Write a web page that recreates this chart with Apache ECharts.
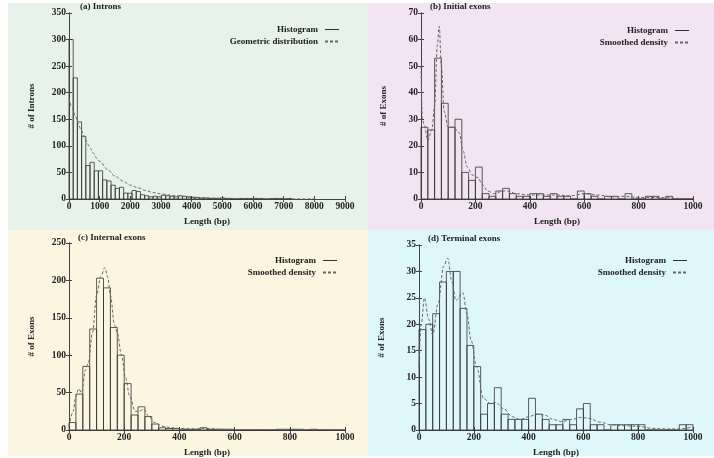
<!DOCTYPE html>
<html>
<head>
<meta charset="utf-8">
<script src="https://cdn.jsdelivr.net/npm/echarts@6/dist/echarts.min.js"></script>
<style>
html,body{margin:0;padding:0;background:#fff;}
#wrap{position:relative;width:714px;height:458px;overflow:hidden;}
.bg{position:absolute;}
#chart{position:absolute;left:0;top:0;width:714px;height:458px;}
</style>
</head>
<body>
<div id="wrap">
  <div class="bg" style="left:8px;top:3px;width:360px;height:227px;background:#e6f2ea"></div>
  <div class="bg" style="left:368px;top:3px;width:346px;height:227px;background:#f2e4f2"></div>
  <div class="bg" style="left:8px;top:230px;width:360px;height:226px;background:#fcf5e0"></div>
  <div class="bg" style="left:368px;top:230px;width:346px;height:226px;background:#ddf7fa"></div>
  <div id="chart"></div>
</div>
<script>
// ---------- data ----------
const panelTitles = ['(a) Introns', '(b) Initial exons', '(c) Internal exons', '(d) Terminal exons'];
const yNames = ['# of Introns', '# of Exons', '# of Exons', '# of Exons'];
const curveNames = ['Geometric distribution', 'Smoothed density', 'Smoothed density', 'Smoothed density'];

// (a) introns: histogram (bin width 137 bp)
const intronBinWidth = 137;
const intronCounts = [300,228,145,118,63,69,53,53,36,34,26,20,22,11,11,16,14,8,6,4,
  5,4,7,6,5,4,6,5,4,3,3,2,
  2,1,1,1,2,1,1,0,1,1,1,1,1,1,0,0,1,1,1,0,1];
const intronCurveX = [0,100,200,300,400,500,600,700,800,900,1000,1250,1500,1750,2000,2250,2500,2750,3000,3500,4000,4500,5000,5500,6000,6500,7000,7500,8000];
const intronCurveY = [190,172,157,142,129,117,104,95,86,77,71,56,43,34,26,21,16,12,9.5,6,3.5,2,1.3,0.8,0.5,0.3,0.2,0.1,0.1];

// (b) initial exons (bin width 25 bp)
const exonBinWidth = 25;
const initialCounts = [27,26,53,36,27,30,10,7,12,2, 1,3,4,2,1,1,2,2,1,2, 1,1,0,3,2,1,0,1,1,0, 2,0,0,1,1,0,1,0,0,0];
const initialCurveX = [0,5,12,25,40,50,60,67,75,85,100,120,140,155,170,190,210,225,245,270,300,320,350,400,450,500,550,600,650,700,750,800,850,900,950,1000];
const initialCurveY = [50,30,28,22,26,35,58,65,50,33,27,27,25,18,12,9,8,5.5,3,2,3,3,2,1.5,1.5,1.5,1.2,2,1.5,0.8,1,0.6,0.6,0.5,0.2,0.1];

// (c) internal exons
const internalCounts = [10,48,85,135,203,190,137,100,62,20, 31,18,8,3,2,2,1,1,1,3, 1,1,1,1,0,0,0,0,0,0, 1,1,1,1,0,1,0,0,0,0];
const internalCurveX = [0,15,25,35,45,60,70,85,100,115,130,140,150,165,175,190,205,220,240,255,270,290,310,340,370,400,450,500,550,600,700,800,900,1000];
const internalCurveY = [5,25,45,55,50,80,90,130,180,205,217,205,180,140,130,100,70,45,25,25,28,18,10,5,3,2,1.5,2,1,0.5,0.5,0.5,0.5,0.2];

// (d) terminal exons
const terminalCounts = [19,20,22,28,30,30,23,16,12,3, 5,8,3,2,2,2,6,3,2,1, 1,2,1,4,5,1,1,0,1,1, 1,1,1,0,0,0,0,0,1,1];
const terminalCurveX = [0,8,20,35,50,70,90,105,120,135,160,175,190,210,235,260,280,310,340,370,400,430,460,490,520,560,590,620,660,700,750,800,850,900,950,1000];
const terminalCurveY = [12,20,25,21,18,24,31,32.5,28,24.5,26,22,17,12,6,5,5.2,4,2.5,2,2.5,3,2.8,2,1.6,2,2.4,2.2,1.5,1,0.8,0.7,0.3,0.2,0.2,0.6];

// axis ranges and ticks
const xMax = [9000, 1000, 1000, 1000];
const xStep = [1000, 200, 200, 200];
const yMax = [350, 70, 250, 35];
const yStep = [50, 10, 50, 5];

// ---------- layout ----------
const grids = [
  {left:69, top:13, width:276, height:186},
  {left:421, top:13, width:272, height:186},
  {left:69, top:243, width:276, height:187},
  {left:419, top:245, width:274, height:185}
];
const FONT = '"Liberation Serif", "DejaVu Serif", serif';
const TXT = '#222';
const AXC = '#444';
const plain = v => String(v);

const binWidths = [intronBinWidth, exonBinWidth, exonBinWidth, exonBinWidth];
const countsList = [intronCounts, initialCounts, internalCounts, terminalCounts];
const curveXs = [intronCurveX, initialCurveX, internalCurveX, terminalCurveX];
const curveYs = [intronCurveY, initialCurveY, internalCurveY, terminalCurveY];

const xAxes = [], yAxes = [], series = [], titles = [], legends = [];
for (let i = 0; i < 4; i++) {
  xAxes.push({
    type:'value', gridIndex:i, min:0, max:xMax[i], interval:xStep[i], position:'bottom',
    name:'Length (bp)', nameLocation:'middle', nameGap:18,
    nameTextStyle:{fontFamily:FONT, fontWeight:'bold', fontSize:9, color:TXT},
    axisLine:{show:true, lineStyle:{color:AXC, width:1}},
    axisTick:{show:true, inside:true, length:3, lineStyle:{color:AXC}},
    axisLabel:{fontFamily:FONT, fontWeight:'bold', fontSize:9.5, color:TXT, margin:3, formatter:plain},
    splitLine:{show:false}
  });
  yAxes.push({
    type:'value', gridIndex:i, min:0, max:yMax[i], interval:yStep[i], position:'left',
    name:yNames[i], nameLocation:'middle', nameRotate:90, nameGap:33,
    nameTextStyle:{fontFamily:FONT, fontWeight:'bold', fontSize:9, color:TXT},
    axisLine:{show:true, lineStyle:{color:AXC, width:1}},
    axisTick:{show:true, inside:true, length:3, lineStyle:{color:AXC}},
    axisLabel:{fontFamily:FONT, fontWeight:'bold', fontSize:9.5, color:TXT, margin:3, formatter:plain},
    splitLine:{show:false}
  });
}
for (let i = 0; i < 4; i++) {
  xAxes.push({
    type:'value', gridIndex:i, min:0, max:xMax[i], interval:xStep[i], position:'top',
    axisLine:{show:true, lineStyle:{color:AXC, width:1}},
    axisTick:{show:true, inside:true, length:3, lineStyle:{color:AXC}},
    axisLabel:{show:false}, splitLine:{show:false}
  });
  yAxes.push({
    type:'value', gridIndex:i, min:0, max:yMax[i], interval:yStep[i], position:'right',
    axisLine:{show:true, lineStyle:{color:AXC, width:1}},
    axisTick:{show:true, inside:true, length:3, lineStyle:{color:AXC}},
    axisLabel:{show:false}, splitLine:{show:false}
  });
}

for (let i = 0; i < 4; i++) {
  const w = binWidths[i];
  series.push({
    type:'custom', name:'Histogram', xAxisIndex:i, yAxisIndex:i,
    itemStyle:{color:'#333'},
    data: countsList[i].map((c, k) => [k * w, (k + 1) * w, c]),
    encode:{x:[0,1], y:2},
    renderItem: (params, api) => {
      const p0 = api.coord([api.value(0), api.value(2)]);
      const p1 = api.coord([api.value(1), 0]);
      return {
        type:'rect',
        shape:{x:p0[0], y:p0[1], width:p1[0]-p0[0], height:p1[1]-p0[1]},
        style:{fill:'none', stroke:'#333', lineWidth:0.8}
      };
    },
    z:2
  });
  series.push({
    type:'line', name:curveNames[i], xAxisIndex:i, yAxisIndex:i,
    data: curveXs[i].map((x, k) => [x, curveYs[i][k]]),
    symbol:'none', smooth:0.35, smoothMonotone:'x',
    lineStyle:{color:'#666', width:1, type:[3,2]},
    itemStyle:{color:'#666'},
    z:3
  });
}

const titlePos = [[80,2],[430,2],[78,233],[428,234]];
for (let i = 0; i < 4; i++) {
  titles.push({text:panelTitles[i], left:titlePos[i][0], top:titlePos[i][1], padding:0,
    textStyle:{fontFamily:FONT, fontWeight:'bold', fontSize:9, color:TXT}});
}
const legendPos = [[374,25],[24,26],[376,256],[26,256]];
for (let i = 0; i < 4; i++) {
  legends.push({
    orient:'vertical', align:'right', right:legendPos[i][0], top:legendPos[i][1], padding:0,
    itemWidth:14, itemHeight:1, itemGap:3, selectedMode:false,
    textStyle:{fontFamily:FONT, fontWeight:'bold', fontSize:9, color:TXT, padding:[0,2,0,0]},
    data:[
      {name:'Histogram', icon:'path://M0,0h14v1h-14z', itemStyle:{color:'#333'}},
      {name:curveNames[i]}
    ]
  });
}

const chart = echarts.init(document.getElementById('chart'), null, {renderer:'canvas'});
chart.setOption({
  backgroundColor:'transparent',
  animation:false,
  title:titles,
  legend:legends,
  grid:grids,
  xAxis:xAxes,
  yAxis:yAxes,
  series:series
});
</script>
</body>
</html>
